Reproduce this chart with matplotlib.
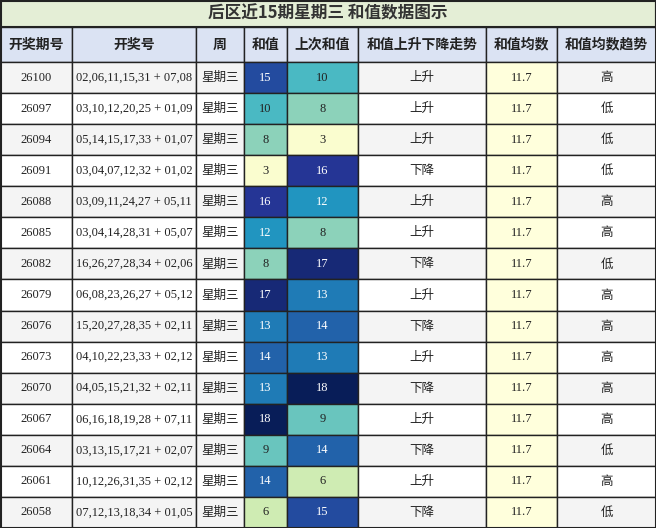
import matplotlib
matplotlib.use('Agg')
import matplotlib.pyplot as plt
from matplotlib.patches import Rectangle
from matplotlib import cm, colors

CJK = ['Noto Sans CJK SC', 'DejaVu Sans']
NUM = ['Liberation Serif', 'DejaVu Serif']

title = '后区近15期星期三 和值数据图示'
headers = ['开奖期号', '开奖号', '周', '和值', '上次和值', '和值上升下降走势', '和值均数', '和值均数趋势']
issues = ['26100', '26097', '26094', '26091', '26088', '26085', '26082', '26079',
          '26076', '26073', '26070', '26067', '26064', '26061', '26058']
numbers = ['02,06,11,15,31 + 07,08', '03,10,12,20,25 + 01,09', '05,14,15,17,33 + 01,07',
           '03,04,07,12,32 + 01,02', '03,09,11,24,27 + 05,11', '03,04,14,28,31 + 05,07',
           '16,26,27,28,34 + 02,06', '06,08,23,26,27 + 05,12', '15,20,27,28,35 + 02,11',
           '04,10,22,23,33 + 02,12', '04,05,15,21,32 + 02,11', '06,16,18,19,28 + 07,11',
           '03,13,15,17,21 + 02,07', '10,12,26,31,35 + 02,12', '07,12,13,18,34 + 01,05']
sums = [15, 10, 8, 3, 16, 12, 8, 17, 13, 14, 13, 18, 9, 14, 6]
prev_sums = [10, 8, 3, 16, 12, 8, 17, 13, 14, 13, 18, 9, 14, 6, 15]
trend = ['上升', '上升', '上升', '下降', '上升', '上升', '下降', '上升',
         '下降', '上升', '下降', '上升', '下降', '上升', '下降']
avg = 11.7
avg_trend = ['高', '低', '低', '低', '高', '高', '低', '高', '高', '高', '高', '高', '低', '高', '低']

W, H = 656, 528
xs = [0, 72, 196, 244, 287, 358, 486, 557, 656]
title_h, head_h = 27, 35
row_h = (H - title_h - head_h) / len(issues)

cmap = matplotlib.colormaps['YlGnBu']
norm = colors.Normalize(vmin=2.5, vmax=18)

fig = plt.figure(figsize=(W / 100, H / 100), dpi=100)
ax = fig.add_axes([0, 0, 1, 1])
ax.set_xlim(0, W)
ax.set_ylim(H, 0)
ax.axis('off')


def cell(x0, x1, y0, h, fc, text, family, color='#222222', size=9, weight='normal'):
    ax.add_patch(Rectangle((x0, y0), x1 - x0, h, facecolor=fc, edgecolor='#222222', lw=1))
    ax.text((x0 + x1) / 2, y0 + h / 2, text, ha='center', va='center',
            family=family, color=color, fontsize=size, fontweight=weight)


ax.add_patch(Rectangle((0, 0), W, title_h, facecolor='#e4eed6', edgecolor='#222222', lw=1.5))
ax.text(W / 2, title_h / 2, title, ha='center', va='center', family=CJK,
        fontsize=12, fontweight='bold', color='#333333')

for i, hd in enumerate(headers):
    cell(xs[i], xs[i + 1], title_h, head_h, '#dbe3f3', hd, CJK, size=10, weight='bold')

for r in range(len(issues)):
    y = title_h + head_h + r * row_h
    bg = '#f4f4f4' if r % 2 == 0 else '#ffffff'
    cell(xs[0], xs[1], y, row_h, bg, issues[r], NUM)
    cell(xs[1], xs[2], y, row_h, bg, numbers[r], NUM)
    cell(xs[2], xs[3], y, row_h, bg, '星期三', CJK)
    for c, v in ((3, sums[r]), (4, prev_sums[r])):
        tc = 'white' if v >= 12 else '#222222'
        cell(xs[c], xs[c + 1], y, row_h, cmap(norm(v)), str(v), NUM, color=tc)
    cell(xs[5], xs[6], y, row_h, bg, trend[r], CJK)
    cell(xs[6], xs[7], y, row_h, '#ffffdc', f'{avg:.1f}', NUM)
    cell(xs[7], xs[8], y, row_h, bg, avg_trend[r], CJK)

ax.add_patch(Rectangle((0.5, 0.5), W - 1, H - 1, fill=False, edgecolor='#222222', lw=1.5))
fig.savefig('out.png', dpi=100)
